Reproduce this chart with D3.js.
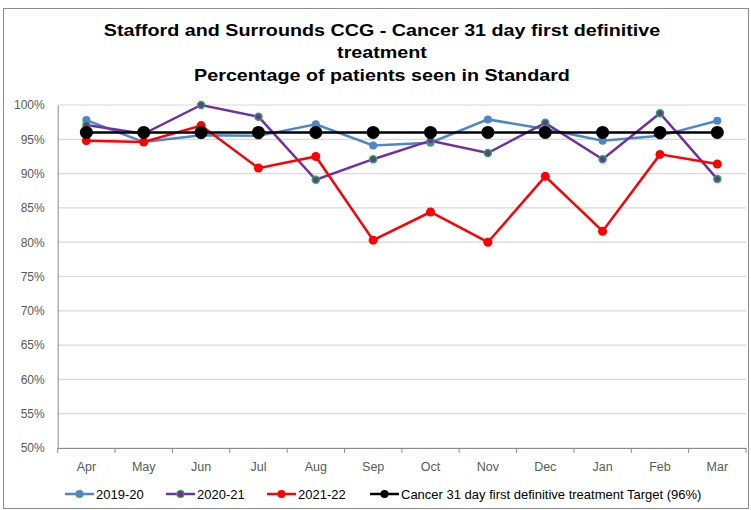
<!DOCTYPE html>
<html>
<head>
<meta charset="utf-8">
<script src="https://cdn.jsdelivr.net/npm/d3@7"></script>
<style>
  body { margin: 0; background: #fff; }
  svg { display: block; font-family: "Liberation Sans", Arial, sans-serif; }
</style>
</head>
<body>
<div id="chart"></div>
<script>
// data
const months = ["Apr", "May", "Jun", "Jul", "Aug", "Sep", "Oct", "Nov", "Dec", "Jan", "Feb", "Mar"];
const yr1920 = [97.8, 94.6, 95.6, 95.5, 97.2, 94.1, 94.5, 97.9, 96.5, 94.8, 95.5, 97.7];
const yr2021 = [97.1, 95.8, 100, 98.3, 89.1, 92.1, 94.8, 93.0, 97.4, 92.1, 98.8, 89.2];
const yr2122 = [94.8, 94.6, 97.0, 90.8, 92.5, 80.3, 84.4, 80.0, 89.6, 81.6, 92.8, 91.4];
const target = [96, 96, 96, 96, 96, 96, 96, 96, 96, 96, 96, 96];
const yTicks = [50, 55, 60, 65, 70, 75, 80, 85, 90, 95, 100];

const series = [
    {name: "2019-20", values: yr1920, color: "#4f86c6", r: 4, fill: "#4f86c6", stroke: "none"},
    {name: "2020-21", values: yr2021, color: "#7030a0", r: 3.5, fill: "#7030a0", stroke: "#22b14c"},
    {name: "2021-22", values: yr2122, color: "#ff0000", r: 4.5, fill: "#ff0000", stroke: "none"},
    {name: "Cancer 31 day first definitive treatment Target (96%)", values: target, color: "#000", r: 6.5, fill: "#000", stroke: "none"}
];

const width = 751, height = 510;
const plotLeft = 57.7, plotRight = 746, plotTop = 105, plotBottom = 448;

const svg = d3.select("#chart").append("svg")
    .attr("width", width)
    .attr("height", height);

// outer frame
svg.append("rect")
    .attr("x", 3.5).attr("y", 8.5)
    .attr("width", 745).attr("height", 500)
    .attr("fill", "#fff")
    .attr("stroke", "#8c8c8c");

// title (source picture is a bit stretched sideways)
const title = svg.append("text")
    .attr("transform", "translate(382,0) scale(1.16,1)")
    .attr("text-anchor", "middle")
    .attr("font-weight", "bold")
    .attr("font-size", "17px")
    .attr("fill", "#000");
["Stafford and Surrounds CCG - Cancer 31 day first definitive", "treatment", "Percentage of patients seen in Standard"]
    .forEach((t, i) => {
        title.append("tspan").attr("x", 0).attr("y", 36 + i * 22.5).text(t);
    });

// scales
const x = d3.scaleBand().domain(months).range([plotLeft, plotRight]);
const y = d3.scaleLinear().domain([50, 100]).range([plotBottom, plotTop]);

// gridlines
svg.append("g")
    .selectAll("line")
    .data(yTicks)
    .enter()
    .append("line")
    .attr("x1", plotLeft).attr("x2", plotRight)
    .attr("y1", d => y(d)).attr("y2", d => y(d))
    .attr("stroke", "#d9d9d9")
    .attr("stroke-width", 1.2);

// y axis
const yAxis = svg.append("g")
    .attr("transform", `translate(${plotLeft},0)`)
    .call(d3.axisLeft(y).tickValues(yTicks).tickSize(0).tickPadding(13).tickFormat(d => d + "%"));
yAxis.select(".domain").attr("stroke", "#8c8c8c");
yAxis.selectAll("text").attr("font-size", "12px").attr("fill", "#595959").attr("font-family", "Liberation Sans, Arial, sans-serif");

// x axis
const xAxis = svg.append("g")
    .attr("transform", `translate(0,${plotBottom})`)
    .call(d3.axisBottom(x).tickSize(0).tickPadding(14));
xAxis.select(".domain").attr("stroke", "#8c8c8c");
xAxis.selectAll("text").attr("font-size", "12.5px").attr("fill", "#595959").attr("font-family", "Liberation Sans, Arial, sans-serif");
xAxis.selectAll(".bound")
    .data(d3.range(months.length + 1))
    .enter()
    .append("line")
    .attr("x1", i => plotLeft + i * x.bandwidth())
    .attr("x2", i => plotLeft + i * x.bandwidth())
    .attr("y1", 0).attr("y2", 5)
    .attr("stroke", "#8c8c8c");

// lines + markers
const line = d3.line()
    .x((d, i) => x(months[i]) + x.bandwidth() / 2)
    .y(d => y(d));

series.forEach(s => {
    const g = svg.append("g");
    g.append("path")
        .attr("d", line(s.values))
        .attr("fill", "none")
        .attr("stroke", s.color)
        .attr("stroke-width", 2.5);
    g.selectAll("circle")
        .data(s.values)
        .enter()
        .append("circle")
        .attr("cx", (d, i) => x(months[i]) + x.bandwidth() / 2)
        .attr("cy", d => y(d))
        .attr("r", s.r)
        .attr("fill", s.fill)
        .attr("stroke", s.stroke)
        .attr("stroke-width", 1.5);
});

// legend
const legendX = [65, 166, 267, 370];
const legend = svg.append("g").attr("transform", "translate(0,494)");
series.forEach((s, i) => {
    const g = legend.append("g").attr("transform", `translate(${legendX[i]},0)`);
    g.append("line")
        .attr("x1", 0).attr("x2", 29)
        .attr("stroke", s.color)
        .attr("stroke-width", 2.5);
    g.append("circle")
        .attr("cx", 14.5).attr("cy", 0)
        .attr("r", Math.min(s.r, 4))
        .attr("fill", s.fill)
        .attr("stroke", s.stroke)
        .attr("stroke-width", 1.2);
    g.append("text")
        .attr("x", 31).attr("y", 4.5)
        .attr("font-size", "13px")
        .attr("fill", "#000")
        .text(s.name);
});
</script>
</body>
</html>
